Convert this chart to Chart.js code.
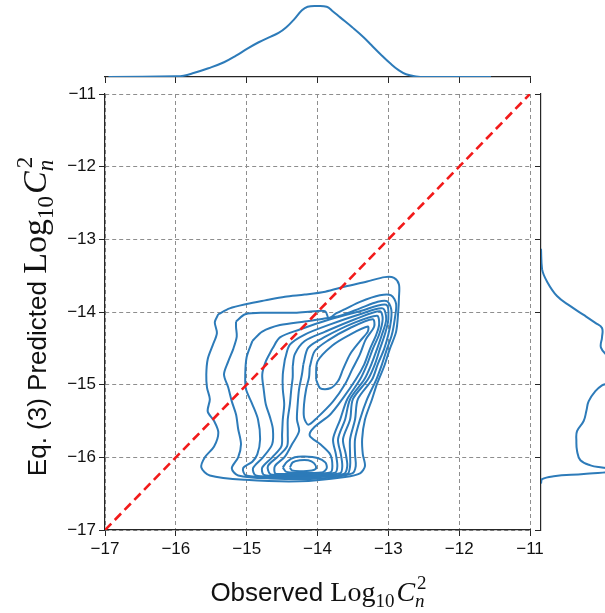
<!DOCTYPE html>
<html>
<head>
<meta charset="utf-8">
<script src="https://cdn.jsdelivr.net/npm/chart.js@4.4.1/dist/chart.umd.min.js"></script>
<style>
  html, body { margin: 0; padding: 0; background: #fff; overflow: hidden; }
  #wrap { position: relative; width: 605px; height: 613px; overflow: hidden; }
  canvas { position: absolute; }
  #main { left: 0; top: 0; }
  #top { left: 0; top: 0; }
  #side { left: 530px; top: 0; }
</style>
</head>
<body>
<div id="wrap">
  <canvas id="main" width="560" height="613"></canvas>
  <canvas id="top" width="560" height="90"></canvas>
  <canvas id="side" width="120" height="613"></canvas>
</div>
<script>
// axis ticks shared by the joint plot and both marginals
const axisTicks = [-17, -16, -15, -14, -13, -12, -11];
const axisTickLabels = ["\u221217", "\u221216", "\u221215", "\u221214", "\u221213", "\u221212", "\u221211"];
const identityLine = [-17, -11];

// marginal density of observed values (top)
const obsX = [-16.95, -16.0, -15.89, -15.75, -15.54, -15.32, -15.15, -14.99, -14.83, -14.66, -14.55, -14.44,
  -14.33, -14.22, -14.14, -14.01, -13.87, -13.79, -13.68, -13.51, -13.35, -13.24, -13.10, -12.97,
  -12.86, -12.75, -12.61, -12.48, -11.55];
const obsDensity = [0, 0.005, 0.010, 0.031, 0.069, 0.116, 0.168, 0.224, 0.274, 0.319, 0.347, 0.392,
  0.454, 0.526, 0.554, 0.560, 0.554, 0.521, 0.470, 0.392, 0.314, 0.252, 0.174, 0.106,
  0.056, 0.022, 0.005, 0, 0];

// marginal density of predicted values (right)
const predY = [-13.13, -13.41, -13.58, -13.78, -13.92, -14.04, -14.15, -14.22, -14.35, -14.49, -14.63, -14.80,
  -14.97, -15.01, -15.09, -15.23, -15.36, -15.50, -15.64, -15.78, -15.91, -16.04, -16.11, -16.14,
  -16.18, -16.23, -16.26, -16.30, -16.36];
const predDensity = [0, 0.008, 0.046, 0.123, 0.226, 0.328, 0.418, 0.469, 0.469, 0.461, 0.52, 0.56,
  0.52, 0.469, 0.418, 0.366, 0.349, 0.328, 0.277, 0.272, 0.277, 0.303, 0.380, 0.469,
  0.62, 0.329, 0.098, 0.008, 0];

// KDE iso-lines, outermost first: [observed, predicted]
const level1 = [[-15.40,-14.03],[-15.24,-13.95],[-15.00,-13.89],[-14.74,-13.84],[-14.46,-13.79],[-14.18,-13.76],
  [-13.89,-13.72],[-13.61,-13.65],[-13.30,-13.58],[-13.05,-13.52],[-12.92,-13.53],[-12.85,-13.62],[-12.85,-13.80],
  [-12.86,-13.99],[-12.89,-14.27],[-12.98,-14.51],[-13.06,-14.75],[-13.16,-14.99],[-13.23,-15.20],[-13.33,-15.48],
  [-13.37,-15.75],[-13.36,-15.96],[-13.33,-16.12],[-13.40,-16.22],[-13.61,-16.27],[-14.25,-16.33],[-15.02,-16.31],
  [-15.52,-16.25],[-15.64,-16.14],[-15.59,-16.00],[-15.46,-15.85],[-15.40,-15.66],[-15.46,-15.50],[-15.55,-15.37],
  [-15.52,-15.20],[-15.56,-15.04],[-15.57,-14.86],[-15.55,-14.65],[-15.48,-14.46],[-15.42,-14.29],[-15.45,-14.14]];
const level2 = [[-15.15,-14.13],[-15.02,-14.03],[-14.74,-14.01],[-14.32,-14.01],[-14.04,-13.99],[-13.89,-13.99],
  [-13.84,-14.09],[-13.74,-14.02],[-13.61,-13.96],[-13.40,-13.86],[-13.12,-13.77],[-12.96,-13.77],[-12.89,-13.89],
  [-12.91,-14.10],[-12.95,-14.31],[-13.02,-14.51],[-13.09,-14.72],[-13.17,-14.93],[-13.30,-15.20],[-13.40,-15.48],
  [-13.47,-15.75],[-13.47,-15.96],[-13.46,-16.12],[-13.51,-16.22],[-13.96,-16.29],[-14.67,-16.29],[-15.12,-16.25],
  [-15.21,-16.15],[-15.12,-16.00],[-15.08,-15.82],[-15.12,-15.61],[-15.15,-15.41],[-15.21,-15.23],[-15.26,-15.04],
  [-15.32,-14.86],[-15.26,-14.68],[-15.19,-14.51],[-15.14,-14.34],[-15.15,-14.21]];
const level3 = [[-14.92,-14.40],[-14.78,-14.27],[-14.53,-14.18],[-14.18,-14.13],[-13.96,-14.10],[-13.68,-14.05],
  [-13.40,-13.95],[-13.15,-13.86],[-13.02,-13.85],[-12.96,-13.96],[-12.96,-14.10],[-13.00,-14.31],[-13.06,-14.51],
  [-13.15,-14.72],[-13.23,-14.93],[-13.43,-15.20],[-13.47,-15.48],[-13.54,-15.75],[-13.54,-15.96],[-13.54,-16.12],
  [-13.58,-16.23],[-13.96,-16.27],[-14.67,-16.27],[-15.01,-16.25],[-15.05,-16.15],[-14.92,-16.06],[-14.85,-15.96],
  [-14.81,-15.75],[-14.84,-15.48],[-14.92,-15.27],[-15.01,-15.06],[-15.02,-14.86],[-15.00,-14.62]];
const level4 = [[-14.64,-14.51],[-14.53,-14.35],[-14.25,-14.24],[-13.82,-14.10],[-13.40,-13.99],[-13.03,-13.90],
  [-13.00,-14.10],[-13.05,-14.31],[-13.12,-14.51],[-13.19,-14.72],[-13.29,-14.93],[-13.50,-15.20],[-13.54,-15.48],
  [-13.64,-15.75],[-13.60,-15.96],[-13.58,-16.12],[-13.63,-16.23],[-13.96,-16.26],[-14.53,-16.26],[-14.87,-16.25],
  [-14.91,-16.15],[-14.77,-16.00],[-14.64,-15.82],[-14.63,-15.61],[-14.67,-15.45],[-14.73,-15.27],[-14.76,-15.06],
  [-14.78,-14.86],[-14.73,-14.68]];
const level5 = [[-14.46,-14.65],[-14.39,-14.45],[-14.18,-14.31],[-13.82,-14.17],[-13.40,-14.03],[-13.08,-13.95],
  [-13.03,-14.10],[-13.09,-14.31],[-13.16,-14.51],[-13.24,-14.72],[-13.34,-14.93],[-13.54,-15.20],[-13.61,-15.48],
  [-13.71,-15.75],[-13.67,-15.96],[-13.65,-16.12],[-13.68,-16.22],[-14.11,-16.25],[-14.60,-16.25],[-14.76,-16.24],
  [-14.78,-16.14],[-14.64,-16.00],[-14.51,-15.85],[-14.50,-15.68],[-14.49,-15.48],[-14.47,-15.27],[-14.49,-15.06],
  [-14.49,-14.86]];
const level6 = [[-14.35,-14.75],[-14.32,-14.58],[-14.18,-14.40],[-13.89,-14.27],[-13.47,-14.10],[-13.12,-13.99],
  [-13.08,-14.10],[-13.13,-14.31],[-13.22,-14.51],[-13.30,-14.72],[-13.40,-14.93],[-13.58,-15.20],[-13.68,-15.48],
  [-13.78,-15.75],[-13.74,-15.96],[-13.72,-16.12],[-13.75,-16.21],[-14.18,-16.24],[-14.56,-16.24],[-14.67,-16.23],
  [-14.70,-16.12],[-14.56,-15.99],[-14.43,-15.85],[-14.42,-15.68],[-14.42,-15.48],[-14.39,-15.27],[-14.37,-15.06],
  [-14.35,-14.90]];
const level7 = [[-14.20,-14.72],[-14.13,-14.49],[-13.89,-14.34],[-13.51,-14.16],[-13.16,-14.05],[-13.13,-14.17],
  [-13.17,-14.31],[-13.26,-14.51],[-13.34,-14.72],[-13.46,-14.93],[-13.65,-15.20],[-13.82,-15.41],[-14.05,-15.59],
  [-14.11,-15.70],[-13.96,-15.82],[-13.82,-15.96],[-13.79,-16.12],[-13.82,-16.21],[-14.25,-16.22],[-14.53,-16.23],
  [-14.60,-16.22],[-14.60,-16.12],[-14.46,-15.99],[-14.36,-15.82],[-14.26,-15.64],[-14.29,-15.48],[-14.28,-15.27],
  [-14.26,-15.06],[-14.22,-14.86]];
const level8Upper = [[-14.11,-14.76],[-14.04,-14.54],[-13.85,-14.39],[-13.54,-14.22],[-13.22,-14.10],[-13.20,-14.20],
  [-13.32,-14.38],[-13.40,-14.58],[-13.51,-14.79],[-13.61,-14.99],[-13.78,-15.23],[-14.00,-15.45],[-14.13,-15.55],
  [-14.19,-15.45],[-14.19,-15.27],[-14.16,-15.06],[-14.12,-14.90]];
const level8Lower = [[-14.49,-16.14],[-14.43,-16.06],[-14.32,-16.00],[-14.18,-15.99],[-14.00,-16.01],[-13.89,-16.07],
  [-13.87,-16.15],[-13.94,-16.21],[-14.25,-16.21],[-14.44,-16.20]];
const level9Upper = [[-14.02,-14.93],[-14.00,-14.68],[-13.79,-14.46],[-13.54,-14.31],[-13.29,-14.20],[-13.29,-14.27],
  [-13.40,-14.40],[-13.54,-14.58],[-13.64,-14.79],[-13.71,-14.95],[-13.82,-15.05],[-13.96,-15.05]];
const level9Lower = [[-14.39,-16.14],[-14.35,-16.07],[-14.25,-16.04],[-14.13,-16.04],[-14.05,-16.08],[-14.02,-16.15],
  [-14.08,-16.18],[-14.25,-16.19],[-14.36,-16.18]];

const contours = [level1, level2, level3, level4, level5, level6, level7,
  level8Upper, level8Lower, level9Upper, level9Lower];

const BLUE = "#2d7bb9";
const INK = "#262626";
const SANS = '"Liberation Sans", Arial, sans-serif';
const SERIF = '"Liberation Serif", "DejaVu Serif", serif';

const xTitle = [
  { text: "Observed ", font: `26px ${SANS}` },
  { text: "Log", font: `28px ${SERIF}` },
  { text: "10", font: `19px ${SERIF}`, dy: 6 },
  { text: "C", font: `italic 28px ${SERIF}`, gap: 2 },
  { text: "2", font: `19px ${SERIF}`, dy: -12, gap: 2, stack: true },
  { text: "n", font: `italic 19px ${SERIF}`, dy: 6 }
];
const yTitle = [
  { text: "Eq. (3) Predicted ", font: `26px ${SANS}` },
  { text: "Log", font: `34px ${SERIF}` },
  { text: "10", font: `23px ${SERIF}`, dy: 7 },
  { text: "C", font: `italic 34px ${SERIF}`, gap: 2 },
  { text: "2", font: `23px ${SERIF}`, dy: -14, gap: 3, stack: true },
  { text: "n", font: `italic 23px ${SERIF}`, dy: 7 }
];

function closed(list) {
  const p = list.map(([x, y]) => ({ x, y }));
  p.push({ ...p[0] });
  return p;
}

function useTicks(scale) {
  scale.ticks = axisTicks.map(v => ({ value: v }));
}

function tickText(v) {
  return axisTickLabels[axisTicks.indexOf(v)];
}

// lays out a title made of pieces (sub/superscripts) and draws it centred on cx
function drawPieces(ctx, pieces, cx, baseline) {
  let x = 0, held = 0;
  const placed = pieces.map(p => {
    ctx.font = p.font;
    const w = ctx.measureText(p.text).width;
    const at = x + (p.gap || 0);
    if (p.stack) {
      held = Math.max(held, w);
    } else {
      x = at + Math.max(w, held);
      held = 0;
    }
    return { p, at };
  });
  const left = cx - x / 2;
  ctx.fillStyle = "#111";
  ctx.textBaseline = "alphabetic";
  ctx.textAlign = "left";
  for (const { p, at } of placed) {
    ctx.font = p.font;
    ctx.fillText(p.text, left + at, baseline + (p.dy || 0));
  }
}

const axisTitles = {
  id: "axisTitles",
  afterDraw(chart) {
    const ctx = chart.ctx;
    const area = chart.chartArea;
    ctx.save();
    drawPieces(ctx, xTitle, (area.left + area.right) / 2, 601);
    ctx.translate(46, (area.top + area.bottom) / 2 + 6);
    ctx.rotate(-Math.PI / 2);
    drawPieces(ctx, yTitle, 0, 0);
    ctx.restore();
  }
};

const tickFont = { family: SANS, size: 17 };

function mainAxis(size, fit) {
  return {
    type: "linear",
    min: -17,
    max: -11,
    afterFit: s => { s[fit] = size; },
    afterBuildTicks: useTicks,
    ticks: { callback: tickText, color: "#111", font: tickFont, padding: 3, autoSkip: false, maxRotation: 0 },
    grid: { color: "#8e8e8e", lineWidth: 1, tickLength: 6, tickColor: INK, tickWidth: 1, tickBorderDash: [] },
    border: { display: true, color: INK, width: 1.2, dash: [4, 3] }
  };
}

new Chart(document.getElementById("main"), {
  type: "scatter",
  data: {
    datasets: [
      {
        data: identityLine.map(v => ({ x: v, y: v })),
        showLine: true,
        borderColor: "#f21a1a",
        borderWidth: 2.6,
        borderDash: [9, 5],
        pointRadius: 0,
        order: 0
      },
      ...contours.map(c => ({
        data: closed(c),
        showLine: true,
        borderColor: BLUE,
        borderWidth: 2,
        pointRadius: 0,
        tension: 0.3,
        order: 1
      }))
    ]
  },
  options: {
    responsive: false,
    animation: false,
    layout: { padding: { left: 0, top: 94, right: 30, bottom: 0 } },
    plugins: { legend: { display: false }, tooltip: { enabled: false } },
    scales: {
      x: mainAxis(83, "height"),
      y: mainAxis(105, "width")
    }
  },
  plugins: [axisTitles]
});

function marginAxis(size, fit) {
  return {
    type: "linear",
    min: -17,
    max: -11,
    afterFit: s => { s[fit] = size; },
    afterBuildTicks: useTicks,
    ticks: { display: false },
    grid: { drawOnChartArea: false, tickLength: 6, color: INK, tickColor: INK, tickWidth: 1 },
    border: { display: true, color: INK, width: 1.2 }
  };
}

const curveStyle = { showLine: true, borderColor: BLUE, borderWidth: 2, pointRadius: 0, tension: 0.4 };

new Chart(document.getElementById("top"), {
  type: "scatter",
  data: { datasets: [{ ...curveStyle, data: obsX.map((x, i) => ({ x, y: obsDensity[i] })) }] },
  options: {
    responsive: false,
    animation: false,
    layout: { padding: { left: 105, top: 0, right: 30, bottom: 0 } },
    plugins: { legend: { display: false }, tooltip: { enabled: false } },
    scales: {
      x: marginAxis(13, "height"),
      y: { display: false, min: 0, max: 0.607 }
    }
  }
});

new Chart(document.getElementById("side"), {
  type: "scatter",
  data: { datasets: [{ ...curveStyle, data: predY.map((y, i) => ({ x: predDensity[i], y })) }] },
  options: {
    responsive: false,
    animation: false,
    layout: { padding: { left: 0, top: 94, right: 0, bottom: 83 } },
    plugins: { legend: { display: false }, tooltip: { enabled: false } },
    scales: {
      x: { display: false, min: 0, max: 0.838 },
      y: marginAxis(11, "width")
    }
  }
});
</script>
</body>
</html>
